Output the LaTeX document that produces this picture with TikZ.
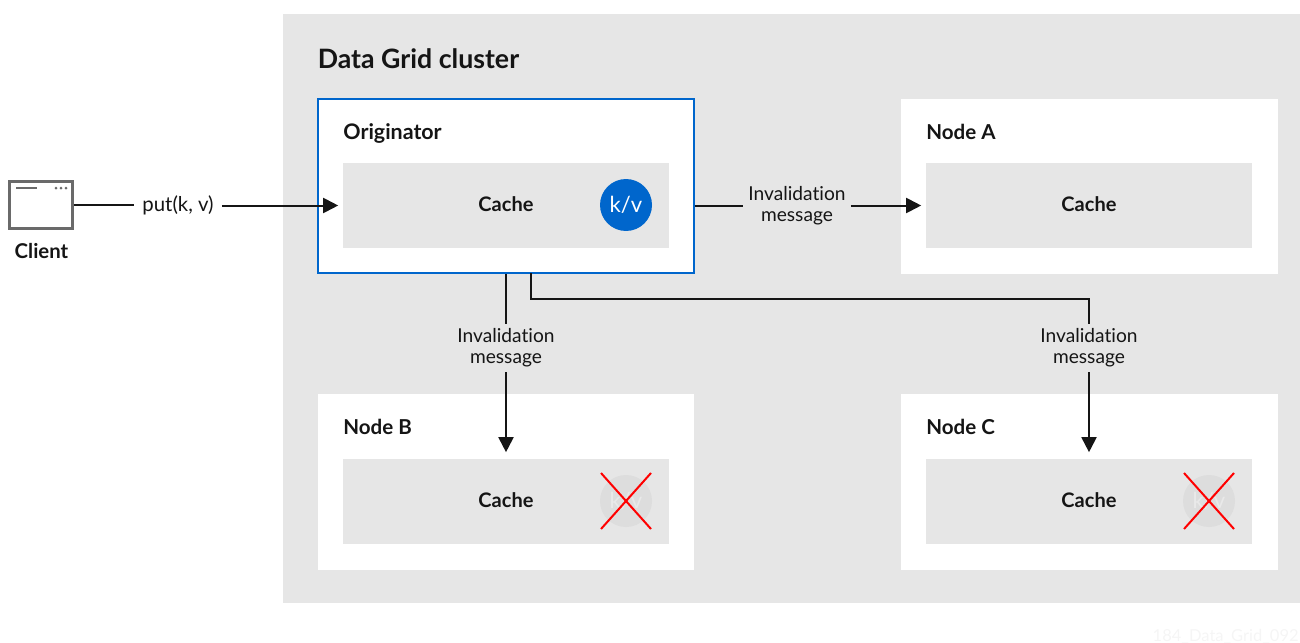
\documentclass[tikz,border=0pt]{standalone}
\usepackage{fontspec}
\setmainfont[Ligatures=NoCommon]{Lato}
\usetikzlibrary{arrows.meta}
\definecolor{panelgray}{HTML}{E6E6E6}
\definecolor{kvblue}{HTML}{0066CC}
\definecolor{inkblack}{HTML}{151515}
\definecolor{ghostgray}{HTML}{DDDDDD}
\definecolor{ghosttext}{HTML}{E9E9E9}
\definecolor{iconGray}{HTML}{6A6A6A}
\tikzset{
	nodebox/.style={fill=white,minimum width=7.54cm,minimum height=3.52cm,inner sep=0pt},
	cachebox/.style={fill=panelgray,text=inkblack,minimum width=6.52cm,minimum height=1.7cm,inner sep=0pt,text depth=0.06cm,font=\fontsize{11.4}{13}\selectfont\bfseries},
	headtext/.style={anchor=base west,inner sep=0pt,text=inkblack,font=\fontsize{11.7}{14}\selectfont\bfseries},
	msgtext/.style={align=center,inner xsep=2.8pt,inner ysep=2.5pt,text=inkblack,font=\fontsize{10.9}{11.9}\selectfont},
	kvdot/.style={circle,minimum size=1.04cm,inner sep=0pt,font=\fontsize{12.6}{14}\selectfont},
	link/.style={draw=inkblack,line width=0.04cm},
	stopshort/.style={shorten >=0.09cm}
}
\begin{document}
\begin{tikzpicture}[x=0.02cm,y=-0.02cm,>={Triangle[length=0.3cm,width=0.3cm]}]
	\useasboundingbox (0,0) rectangle (1300,642);
	\fill[panelgray] (283,14) rectangle (1300,603);
	\node[anchor=base west,inner sep=0pt,text=inkblack,font=\fontsize{15.2}{17}\selectfont\bfseries] (clustertitle) at (317.5,69) {Data Grid cluster};
	% boxes
	\node[nodebox,draw=kvblue,line width=0.04cm,minimum width=7.52cm,minimum height=3.48cm] (orig) at (506,186) {};
	\node[nodebox] (nodeA) at (1089.5,186.5) {};
	\node[nodebox] (nodeB) at (506,482) {};
	\node[nodebox] (nodeC) at (1089.5,482) {};
	\node[headtext,font=\fontsize{12.2}{14}\selectfont\bfseries] (origtitle) at (343,139) {Originator};
	\node[headtext] (titleA) at (926,139) {Node A};
	\node[headtext] (titleB) at (343,434) {Node B};
	\node[headtext] (titleC) at (926,434) {Node C};
	\node[cachebox] (cacheO) at (506,205.5) {Cache};
	\node[cachebox] (cacheA) at (1089,205.5) {Cache};
	\node[cachebox] (cacheB) at (506,501.5) {Cache};
	\node[cachebox] (cacheC) at (1089,501.5) {Cache};
	\node[kvdot,fill=kvblue,text=white] (kvO) at (626,205) {k/v};
	% removed entries
	\foreach \nm/\xx in {B/626,C/1209}{
		\node[kvdot,fill=ghostgray,text=ghosttext] (kv\nm) at (\xx,501) {k/v};
		\draw[red,line width=0.04cm,shift={(kv\nm.center)}] (-25,-28)--(25,28) (-25,28)--(25,-28);
	}
	% client
	\node[draw=iconGray,fill=white,line width=0.06cm,minimum width=1.26cm,minimum height=0.94cm,inner sep=0pt] (client) at (41,205) {};
	\draw[iconGray,line width=0.04cm] (16,188)--(37,188);
	\fill[iconGray] (56,188) circle (1.5) (61,188) circle (1.5) (66,188) circle (1.5);
	\node[inner sep=0pt,text=inkblack,font=\fontsize{11.6}{13}\selectfont\bfseries] (clientname) at (41.5,251) {Client};
	% messages
	\node[msgtext,inner xsep=4.5pt,font=\fontsize{11.6}{13}\selectfont] (putmsg) at (178,205) {put(k, v)};
	\node[msgtext] (msgA) at (797,206) {Invalidation\\message};
	\node[msgtext] (msgB) at (506,348) {Invalidation\\message};
	\node[msgtext] (msgC) at (1089,348) {Invalidation\\message};
	\coordinate (origout) at (531,273);
	\coordinate (origbend) at (531,299);
	\draw[link] (client.east)--(client.east-|putmsg.west);
	\draw[link,->,stopshort] (putmsg.east|-cacheO.west)--(cacheO.west);
	\draw[link] (orig.east|-cacheO.east)--(msgA.west|-cacheO.east);
	\draw[link,->,stopshort] (msgA.east|-cacheA.west)--(cacheA.west);
	\draw[link] (orig.south)--(msgB.north);
	\draw[link,->,stopshort,shorten >=0.13cm] (msgB.south)--(cacheB.north);
	\draw[link] (origout)--(origbend)-|(msgC.north);
	\draw[link,->,stopshort,shorten >=0.13cm] (msgC.south)--(cacheC.north);
	\node[anchor=base east,inner sep=0pt,text=black!4,font=\fontsize{9.4}{11}\selectfont] (stamp) at (1299,641) {184\_Data\_Grid\_092};
\end{tikzpicture}
\end{document}
